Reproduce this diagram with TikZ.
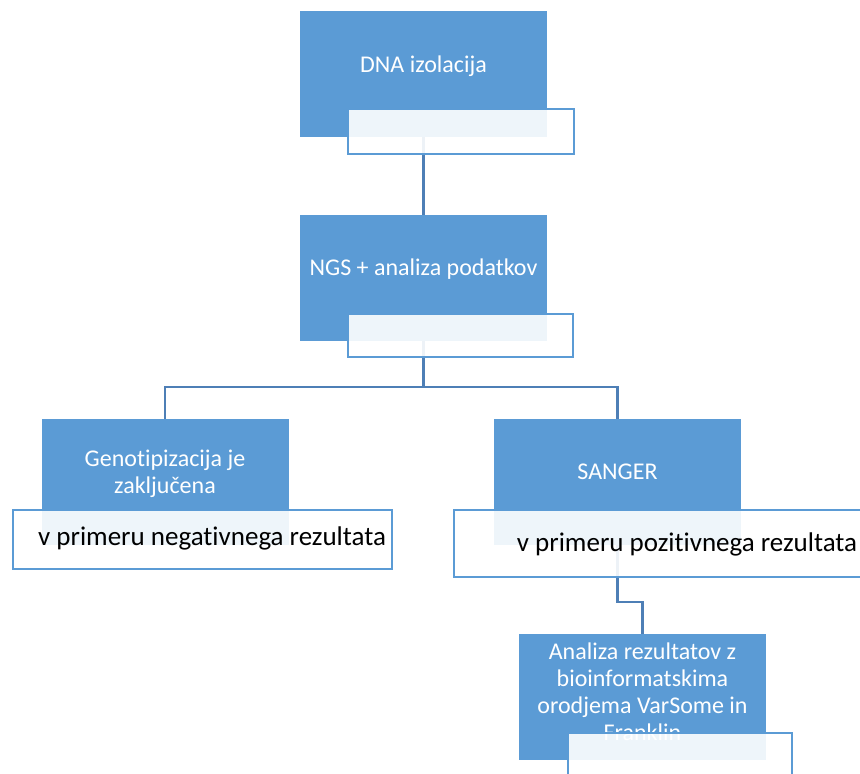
\documentclass[tikz,border=0pt]{standalone}
\usepackage{fontspec}
\setmainfont{Carlito}[Ligatures={CommonOff,ContextualOff}]
\definecolor{boxblue}{HTML}{5B9BD5}
\definecolor{linkblue}{HTML}{4E7FB6}
\tikzset{
    mainbox/.style={fill=boxblue, minimum width=247pt, minimum height=126pt, inner sep=0pt},
    maintext/.style={text=white, align=center, inner sep=0pt, font=\fontsize{24}{27}\selectfont},
    notebox/.style={draw=boxblue, line width=2pt, fill=white, fill opacity=0.9, inner sep=0pt},
    notetext/.style={text=black, inner sep=0pt, font=\fontsize{27}{32}\selectfont},
    link/.style={draw=linkblue, line width=2.3pt}
}
\begin{document}
\begin{tikzpicture}[x=1pt, y=-1pt]
    % Page frame
    \useasboundingbox (0,0) rectangle (860,774);
    \clip (0,0) rectangle (860,774);

    % Main boxes
    \node[mainbox] (dna) at (423.5,74) {};
    \node[mainbox] (ngs) at (423.5,278) {};
    \node[mainbox] (geno) at (165,482) {};
    \node[mainbox] (sanger) at (617.5,482) {};
    \node[mainbox] (analiza) at (642.5,697) {};

    % Box texts
    \node[maintext] (dnatxt) at (423.5,66) {DNA izolacija};
    \node[maintext] (ngstxt) at (423.5,269) {NGS + analiza podatkov};
    \node[maintext] (genotxt) at (165,474) {Genotipizacija je\\zaključena};
    \node[maintext] (sangertxt) at (617.5,472) {SANGER};
    \node[maintext] (analizatxt) at (642.5,692) {Analiza rezultatov z\\bioinformatskima\\orodjema VarSome in\\Franklin};

    % Connectors
    \draw[link] (dna.south) -- (ngs.north);
    \coordinate (fork) at (423.5,387);
    \draw[link] (ngs.south) -- (fork);
    \draw[link] (fork) -| (geno.north);
    \draw[link] (fork) -| (sanger.north);
    \draw[link] (sanger.south) -- ++(0,57) -| (analiza.north);

    % Note boxes
    \node[notebox, minimum width=226pt, minimum height=45pt] (dnanote) at (461,131.5) {};
    \node[notebox, minimum width=225pt, minimum height=43pt] (ngsnote) at (460.5,335.5) {};
    \node[notebox, minimum width=379pt, minimum height=59pt] (genonote) at (202.5,539.5) {};
    \node[notebox, minimum width=466pt, minimum height=67pt] (sangernote) at (687,543.5) {};
    \node[notebox, minimum width=224pt, minimum height=45pt] (analizanote) at (680,755.5) {};

    % Note texts
    \node[notetext] (genonotetxt) at (212,538) {v primeru negativnega rezultata};
    \node[notetext] (sangernotetxt) at (687,544) {v primeru pozitivnega rezultata};
\end{tikzpicture}
\end{document}
